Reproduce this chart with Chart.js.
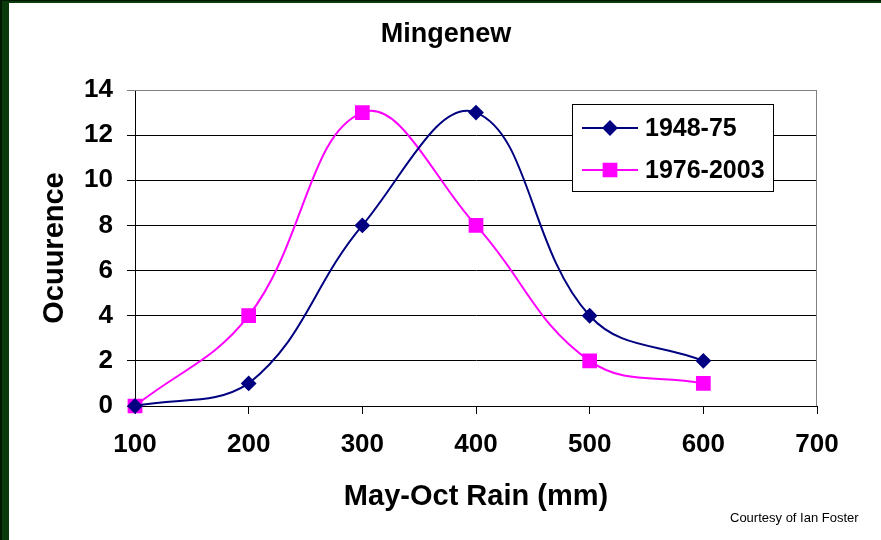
<!DOCTYPE html>
<html>
<head>
<meta charset="utf-8">
<script src="https://cdn.jsdelivr.net/npm/chart.js@4.4.1/dist/chart.umd.min.js"></script>
<style>
  html, body { margin: 0; padding: 0; background: #fff; }
  #wrap { position: relative; width: 881px; height: 540px; }
</style>
</head>
<body>
<div id="wrap"><canvas id="chart"></canvas></div>
<script>
// Chart data
const rain = [100, 200, 300, 400, 500, 600];
const period1 = [0, 1, 8, 13, 4, 2];      // 1948-75
const period2 = [0, 4, 13, 8, 2, 1];      // 1976-2003
const seriesLabels = ['1948-75', '1976-2003'];
const xTicks = [100, 200, 300, 400, 500, 600, 700];
const yTicks = [0, 2, 4, 6, 8, 10, 12, 14];
const chartTitle = 'Mingenew';

const NAVY = '#000080';
const MAGENTA = '#FF00FF';
const FONT = '"Liberation Sans", Arial, sans-serif';

const toPoints = (ys) => rain.map((x, i) => ({ x: x, y: ys[i] }));

// green slide frame, title, plot border, legend box and credit line
const decor = {
  id: 'decor',
  beforeDraw(chart) {
    const ctx = chart.ctx;
    ctx.save();
    ctx.fillStyle = '#0b3b0b';
    ctx.fillRect(0, 0, 9, chart.height);
    ctx.fillRect(0, 0, chart.width, 3);
    ctx.fillStyle = '#021a02';
    ctx.fillRect(0, 0, 2, chart.height);
    ctx.fillRect(0, 0, chart.width, 1);
    ctx.restore();
  },
  afterDraw(chart) {
    const ctx = chart.ctx;
    const a = chart.chartArea;
    ctx.save();
    // plot area border (top + right)
    ctx.strokeStyle = '#808080';
    ctx.lineWidth = 1;
    ctx.beginPath();
    ctx.moveTo(a.left, a.top + 0.5);
    ctx.lineTo(a.right - 0.5, a.top + 0.5);
    ctx.lineTo(a.right - 0.5, a.bottom);
    ctx.stroke();

    // title
    ctx.fillStyle = '#000';
    ctx.font = 'bold 27px ' + FONT;
    ctx.textAlign = 'center';
    ctx.textBaseline = 'middle';
    ctx.fillText(chartTitle, 446, 35);

    // legend
    const lx = 572, ly = 104, lw = 201, lh = 87;
    ctx.fillStyle = '#fff';
    ctx.fillRect(lx, ly, lw, lh);
    ctx.strokeStyle = '#000';
    ctx.lineWidth = 1;
    ctx.strokeRect(lx + 0.5, ly + 0.5, lw, lh);
    chart.data.datasets.forEach((ds, i) => {
      const y = ly + 24 + i * 42;
      ctx.strokeStyle = ds.borderColor;
      ctx.lineWidth = 2;
      ctx.beginPath();
      ctx.moveTo(lx + 10, y);
      ctx.lineTo(lx + 66, y);
      ctx.stroke();
      Chart.helpers.drawPoint(ctx, {
        pointStyle: ds.pointStyle, radius: ds.pointRadius, borderWidth: 1
      }, lx + 38, y);
      ctx.fillStyle = ds.pointBackgroundColor;
      ctx.fill();
      ctx.fillStyle = '#000';
      ctx.font = 'bold 25px ' + FONT;
      ctx.textBaseline = 'middle';
      ctx.textAlign = 'left';
      ctx.fillText(ds.label, lx + 73, y + 1);
    });

    ctx.font = '13px ' + FONT;
    ctx.fillStyle = '#000';
    ctx.textAlign = 'left';
    ctx.textBaseline = 'middle';
    ctx.fillText('Courtesy of Ian Foster', 730, 518);
    ctx.restore();
  }
};

new Chart(document.getElementById('chart'), {
  type: 'line',
  data: {
    datasets: [
      {
        label: seriesLabels[0],
        data: toPoints(period1),
        borderColor: NAVY,
        backgroundColor: NAVY,
        pointBackgroundColor: NAVY,
        pointBorderColor: NAVY,
        pointStyle: 'rectRot',
        pointRadius: 6.5,
        borderWidth: 2,
        tension: 0.4,
      },
      {
        label: seriesLabels[1],
        data: toPoints(period2),
        borderColor: MAGENTA,
        backgroundColor: MAGENTA,
        pointBackgroundColor: MAGENTA,
        pointBorderColor: MAGENTA,
        pointStyle: 'rect',
        pointRadius: 9,
        borderWidth: 2,
        tension: 0.4,
      },
    ],
  },
  options: {
    responsive: true,
    maintainAspectRatio: false,
    animation: false,
    clip: false,
    layout: { padding: { left: 0, right: 64, top: 90, bottom: 0 } },
    plugins: {
      legend: { display: false },
      tooltip: { enabled: false },
      title: { display: false },
    },
    scales: {
      x: {
        type: 'linear',
        min: 100,
        max: 700,
        afterBuildTicks: (s) => { s.ticks = xTicks.map(v => ({ value: v })); },
        afterFit: (s) => { s.height = 134; },
        ticks: {
          color: '#000',
          padding: 15,
          maxRotation: 0,
          font: { family: FONT, size: 26, weight: 'bold' },
        },
        grid: { drawOnChartArea: false, drawTicks: true, tickLength: 8, color: '#000' },
        border: { color: '#000', width: 1 },
        title: {
          display: true,
          text: 'May-Oct Rain (mm)',
          color: '#000',
          font: { family: FONT, size: 29, weight: 'bold' },
          padding: { top: 0, bottom: 26 },
        },
      },
      y: {
        min: 0,
        max: 14,
        afterBuildTicks: (s) => { s.ticks = yTicks.map(v => ({ value: v })); },
        afterFit: (s) => { s.width = 135; },
        ticks: {
          color: '#000',
          padding: 14,
          font: { family: FONT, size: 26, weight: 'bold' },
        },
        grid: {
          tickLength: 8,
          color: (c) => (c.tick && c.tick.value === 14 ? '#808080' : '#000'),
        },
        border: { color: '#000', width: 1 },
        title: {
          display: true,
          text: 'Ocuurence',
          color: '#000',
          font: { family: FONT, size: 29, weight: 'bold' },
          padding: { top: 38, bottom: 0 },
        },
      },
    },
  },
  plugins: [decor],
});
</script>
</body>
</html>
